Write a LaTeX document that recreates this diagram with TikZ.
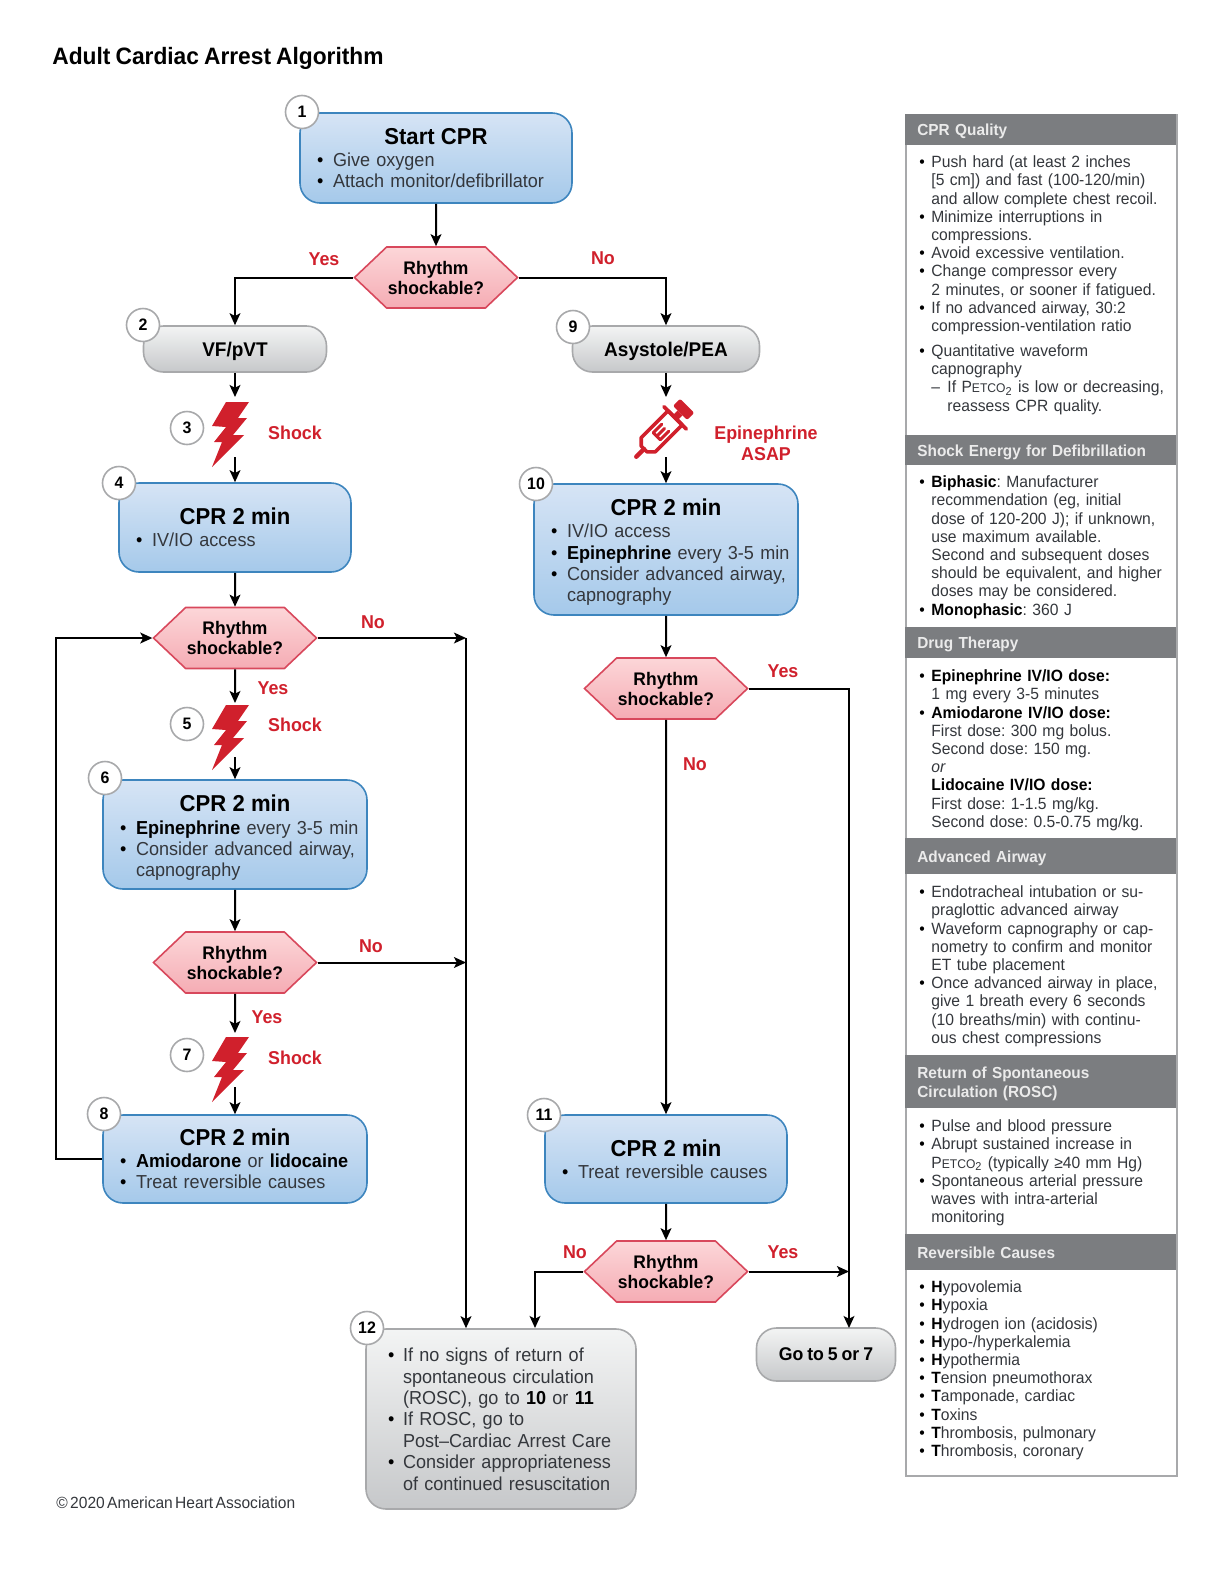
\documentclass[tikz,border=0pt]{standalone}
\usepackage{fontspec}
\setmainfont[WordSpace=0.55, FakeStretch=0.96, BoldFeatures={WordSpace=0.8}]{Liberation Sans}
\usetikzlibrary{shapes.symbols,arrows.meta}
\definecolor{cprblue}{RGB}{61, 133, 190}
\definecolor{cprbluetop}{RGB}{214, 228, 245}
\definecolor{cprbluelow}{RGB}{165, 201, 234}
\definecolor{cprgray}{RGB}{168, 169, 171}
\definecolor{cprgraytop}{RGB}{243, 244, 244}
\definecolor{cprgraylow}{RGB}{198, 200, 202}
\definecolor{cprpink}{RGB}{216, 72, 92}
\definecolor{cprpinktop}{RGB}{252, 214, 216}
\definecolor{cprpinklow}{RGB}{245, 172, 180}
\definecolor{cprred}{RGB}{208, 32, 44}
\definecolor{hdrgray}{RGB}{123, 125, 128}
\definecolor{bodygray}{RGB}{52, 55, 60}
\newcommand{\bodyfont}{\fontsize{9.4}{10.5}\selectfont}
\newcommand{\titlefont}{\bfseries\fontsize{11.5}{12}\selectfont\color{black}}
\newcommand{\sidefont}{\fontsize{8.15}{9.1}\selectfont}
\def\itmw{8pt}
\newcommand{\bd}[1]{\textbf{\color{black}#1}}
\newcommand{\ttl}[2][0pt]{\hbox to \hsize{\hss\titlefont\rule{0pt}{#1}#2\hss}\vskip.6pt}
\newcommand{\itm}[1]{\hbox{\rule{0pt}{.75em}\hbox to \itmw{\color{black}\textbullet\hss}#1}\par}
\newcommand{\cnt}[1]{\hbox{\rule{0pt}{.75em}\hbox to \itmw{\hss}#1}\par}
\newcommand{\petco}{P{\fontsize{6.3}{7}\selectfont ETCO}\textsubscript{2}}
\tikzset{
  bluebox/.style={rectangle, rounded corners=10pt, draw=cprblue, line width=.8pt, top color=cprbluetop, middle color=cprbluetop!94!cprbluelow, bottom color=cprbluelow, inner xsep=8.5pt, inner ysep=0pt, font=\bodyfont, text=bodygray},
  graybox/.style={rectangle, rounded corners=10pt, draw=cprgray, line width=.8pt, top color=cprgraytop, middle color=cprgraytop!88!cprgraylow, bottom color=cprgraylow, inner ysep=0pt, font=\bodyfont, text=bodygray},
  grayhead/.style={graybox, font=\bfseries\fontsize{9.9}{10.4}\selectfont, text=black, text depth=0pt},
  rhythm/.style={signal, signal to=west and east, signal pointer angle=87, draw=cprpink, line width=.8pt, top color=cprpinktop, middle color=cprpinktop!92!cprpinklow, bottom color=cprpinklow, minimum width=81.5pt, minimum height=30.5pt, inner sep=0pt, align=center, font=\bfseries\fontsize{9.1}{10}\selectfont, text=black},
  numcircle/.style={circle, draw=cprgray, line width=.8pt, fill=white, minimum size=16.5pt, inner sep=0pt, font=\bfseries\fontsize{8.3}{9}\selectfont, text=black},
  redlabel/.style={font=\bfseries\fontsize{9.3}{10.4}\selectfont, text=cprred, inner sep=0pt, align=center},
  sidehead/.style={rectangle, anchor=north west, fill=hdrgray, text=white!92!black, inner xsep=6pt, inner ysep=0pt, minimum width=135.5pt, text width=123.5pt, text height=5.6pt, text depth=0pt, font=\bfseries\fontsize{8}{9.5}\selectfont},
  sidetext/.style={anchor=north west, inner sep=0pt, text width=125pt, font=\sidefont, text=bodygray},
  flowline/.style={line width=1pt, black},
  boltshape/.pic={\fill[cprred] (-4,0) -- (19,0) -- (8,16) -- (17,16) -- (3,33) -- (14,33) -- (-18,65) -- (-8,40) -- (-16,40) -- (-4,25) -- (-18,24) -- cycle;}
}
\begin{document}
\frenchspacing
\begin{tikzpicture}[x=.5pt, y=-.5pt, >={Stealth[length=6pt, width=5.4pt, inset=1.4pt]}]
\useasboundingbox (0,0) rectangle (1231,1580);
\node[anchor=west, inner sep=0pt, font=\bfseries\fontsize{11.85}{13}\selectfont] (title) at (52,58) {Adult Cardiac Arrest Algorithm};
\node[anchor=west, inner sep=0pt, font=\fontsize{8.1}{9}\selectfont, text=bodygray] (copyr) at (56,1503) {© 2020 American Heart Association};

% Boxes
\node[bluebox, minimum width=136pt, minimum height=45pt, text width=119pt] (box1) at (436,158) {\ttl{Start CPR}\itm{Give oxygen}\itm{Attach monitor/defibrillator}};
\node[grayhead, minimum width=91.5pt, minimum height=23pt] (box2) at (235,349) {VF/pVT};
\node[bluebox, minimum width=116pt, minimum height=44.5pt, text width=99pt] (box4) at (235,527.5) {\ttl{CPR 2 min}\itm{IV/IO access}};
\node[bluebox, minimum width=132pt, minimum height=54.5pt, text width=115pt] (box6) at (235,834.5) {\ttl[11.5pt]{CPR 2 min}\itm{\bd{Epinephrine} every 3-5 min}\itm{Consider advanced airway,}\cnt{capnography}};
\node[bluebox, minimum width=132pt, minimum height=44pt, text width=115pt] (box8) at (235,1159) {\ttl{CPR 2 min}\itm{\bd{Amiodarone} or \bd{lidocaine}}\itm{Treat reversible causes}};
\node[grayhead, minimum width=93.5pt, minimum height=23pt] (box9) at (666,349) {Asystole/PEA};
\node[bluebox, minimum width=132pt, minimum height=65.5pt, text width=115pt, font=\fontsize{9.4}{10.7}\selectfont] (box10) at (666,549.5) {\ttl[11pt]{CPR 2 min}\itm{IV/IO access}\itm{\bd{Epinephrine} every 3-5 min}\itm{Consider advanced airway,}\cnt{capnography}};
\node[bluebox, minimum width=121pt, minimum height=44pt, text width=104pt] (box11) at (666,1159) {\ttl{CPR 2 min}\itm{Treat reversible causes}};
\node[graybox, minimum width=135pt, minimum height=90pt, inner xsep=11pt, text width=113pt, font=\fontsize{9.4}{10.7}\selectfont] (box12) at (501,1419) {\def\itmw{7.5pt}\itm{If no signs of return of}\cnt{spontaneous circulation}\cnt{(ROSC), go to \bd{10} or \bd{11}}\itm{If ROSC, go to}\cnt{Post–Cardiac Arrest Care}\itm{Consider appropriateness}\cnt{of continued resuscitation}};
\node[grayhead, minimum width=69.5pt, minimum height=26.5pt, font=\bfseries\fontsize{9.2}{10.4}\selectfont] (box13) at (826,1354.5) {Go to 5 or 7};

% Decisions
\node[rhythm] (dec1) at (436,277.5) {Rhythm\\shockable?};
\node[rhythm] (dec2) at (235,638) {Rhythm\\shockable?};
\node[rhythm] (dec3) at (235,962.5) {Rhythm\\shockable?};
\node[rhythm] (dec4) at (666,688.5) {Rhythm\\shockable?};
\node[rhythm] (dec5) at (666,1271.5) {Rhythm\\shockable?};

% Number circles
\node[numcircle] (num1) at (302,112) {1};
\node[numcircle] (num2) at (143,325) {2};
\node[numcircle] (num3) at (187,428) {3};
\node[numcircle] (num4) at (119,483) {4};
\node[numcircle] (num5) at (187,724) {5};
\node[numcircle] (num6) at (105,778) {6};
\node[numcircle] (num7) at (187,1055) {7};
\node[numcircle] (num8) at (104,1114) {8};
\node[numcircle] (num9) at (573,327) {9};
\node[numcircle] (num10) at (536,484) {10};
\node[numcircle] (num11) at (544,1115) {11};
\node[numcircle] (num12) at (367,1328) {12};

% Shock bolts
\pic at (230,402) {boltshape};
\pic at (230,705) {boltshape};
\pic at (230,1037) {boltshape};

% Syringe
\begin{scope}[shift={(661,432)}, rotate=45, cprred, line cap=round, line join=round]
\draw[line width=2.2pt] (-35,0) -- (-24,0);
\draw[line width=1.8pt] (-24,-4) -- (-18,-10) -- (20,-10) -- (20,10) -- (-18,10) -- (-24,4) -- cycle;
\draw[line width=1.8pt] (20,-16) -- (20,16);
\draw[line width=3.5pt, line cap=butt] (20,0) -- (27,0);
\fill[rounded corners=1pt] (27,-10) -- (27,10) -- (37,10) -- (37,-10) -- cycle;
\draw[line width=1.5pt] (6,-5) -- (-6,-5) -- (-6,5) -- (6,5) (-6,0) -- (5,0);
\end{scope}

% Red labels
\node[redlabel] (yes1) at (324,259) {Yes};
\node[redlabel] (no1) at (603,258) {No};
\node[redlabel] (shock3) at (295,433) {Shock};
\node[redlabel] (epi) at (766,443.5) {Epinephrine\\ASAP};
\node[redlabel] (no2) at (373,622) {No};
\node[redlabel] (yes2) at (273,688) {Yes};
\node[redlabel] (shock5) at (295,725) {Shock};
\node[redlabel] (no3) at (371,946) {No};
\node[redlabel] (yes3) at (267,1017) {Yes};
\node[redlabel] (shock7) at (295,1058) {Shock};
\node[redlabel] (yes4) at (783,671) {Yes};
\node[redlabel] (no4) at (695,764) {No};
\node[redlabel] (no5) at (575,1252) {No};
\node[redlabel] (yes5) at (783,1252) {Yes};

% Free ends
\coordinate (in3) at (235,397);
\coordinate (out3) at (235,457);
\coordinate (in5) at (235,703);
\coordinate (out5) at (235,757);
\coordinate (in7) at (235,1033);
\coordinate (out7) at (235,1087);
\coordinate (insyr) at (666,397);
\coordinate (outsyr) at (666,457);
\coordinate (loop) at (56,638);
\coordinate (jn1) at (466,638);
\coordinate (left12) at (535,1328);
\coordinate (goin) at (849,1328);

% Edges
\draw[->, flowline] (box1) -- (dec1);
\draw[->, flowline] (dec1.west) -| (box2);
\draw[->, flowline] (dec1.east) -| (box9);
\draw[->, flowline] (box2) -- (in3);
\draw[->, flowline] (out3) -- (box4);
\draw[->, flowline] (box4) -- (dec2);
\draw[->, flowline] (dec2) -- (in5);
\draw[->, flowline] (out5) -- (box6);
\draw[->, flowline] (box6) -- (dec3);
\draw[->, flowline] (dec3) -- (in7);
\draw[->, flowline] (out7) -- (box8);
\draw[->, flowline] (box8.west) -| (loop) -- (dec2.west);
\draw[->, flowline] (dec2.east) -- (jn1);
\draw[->, flowline] (dec3.east) -- (dec3.east -| jn1);
\draw[->, flowline] (jn1) -- (jn1 |- box12.north);
\draw[->, flowline] (box9) -- (insyr);
\draw[->, flowline] (outsyr) -- (box10);
\draw[->, flowline] (box10) -- (dec4);
\draw[->, flowline] (dec4) -- (box11);
\draw[->, flowline] (box11) -- (dec5);
\draw[->, flowline] (dec4.east) -| (goin);
\draw[->, flowline] (dec5.east) -- (dec5.east -| goin);
\draw[->, flowline] (dec5.west) -| (left12);

% Side panel
\node[rectangle, anchor=north west, draw=cprgray, line width=.8pt, fill=white, minimum width=135.5pt, minimum height=680.5pt, inner sep=0pt] (panel) at (905,114) {};
\node[sidehead, minimum height=15.5pt] (hdr1) at (905,114) {CPR Quality};
\node[sidehead, minimum height=15pt] (hdr2) at (905,435) {Shock Energy for Defibrillation};
\node[sidehead, minimum height=15.5pt] (hdr3) at (905,627) {Drug Therapy};
\node[sidehead, minimum height=18pt] (hdr4) at (905,838) {Advanced Airway};
\node[sidehead, minimum height=26.5pt, text depth=9.5pt] (hdr5) at (905,1055) {Return of Spontaneous\\Circulation (ROSC)};
\node[sidehead, minimum height=18pt] (hdr6) at (905,1234) {Reversible Causes};

\node[sidetext] (txt1) at (919,155) {\def\itmw{6pt}\itm{Push hard (at least 2 inches}\cnt{[5 cm]) and fast (100-120/min)}\cnt{and allow complete chest recoil.}\itm{Minimize interruptions in}\cnt{compressions.}\itm{Avoid excessive ventilation.}\itm{Change compressor every}\cnt{2 minutes, or sooner if fatigued.}\itm{If no advanced airway, 30:2}\cnt{compression-ventilation ratio}\vskip3.4pt\itm{Quantitative waveform}\cnt{capnography}\cnt{\hbox to 8pt{–\hss}If \petco{} is low or decreasing,}\cnt{\hbox to 8pt{\hss}reassess CPR quality.}};
\node[sidetext] (txt2) at (919,475) {\def\itmw{6pt}\itm{\bd{Biphasic}: Manufacturer}\cnt{recommendation (eg, initial}\cnt{dose of 120-200 J); if unknown,}\cnt{use maximum available.}\cnt{Second and subsequent doses}\cnt{should be equivalent, and higher}\cnt{doses may be considered.}\itm{\bd{Monophasic}: 360 J}};
\node[sidetext] (txt3) at (919,669) {\def\itmw{6pt}\itm{\bd{Epinephrine IV/IO dose:}}\cnt{1 mg every 3-5 minutes}\itm{\bd{Amiodarone IV/IO dose:}}\cnt{First dose: 300 mg bolus.}\cnt{Second dose: 150 mg.}\cnt{\textit{or}}\cnt{\bd{Lidocaine IV/IO dose:}}\cnt{First dose: 1-1.5 mg/kg.}\cnt{Second dose: 0.5-0.75 mg/kg.}};
\node[sidetext] (txt4) at (919,885) {\def\itmw{6pt}\itm{Endotracheal intubation or su-}\cnt{praglottic advanced airway}\itm{Waveform capnography or cap-}\cnt{nometry to confirm and monitor}\cnt{ET tube placement}\itm{Once advanced airway in place,}\cnt{give 1 breath every 6 seconds}\cnt{(10 breaths/min) with continu-}\cnt{ous chest compressions}};
\node[sidetext] (txt5) at (919,1119) {\def\itmw{6pt}\itm{Pulse and blood pressure}\itm{Abrupt sustained increase in}\cnt{\petco{} (typically ≥40 mm Hg)}\itm{Spontaneous arterial pressure}\cnt{waves with intra-arterial}\cnt{monitoring}};
\node[sidetext] (txt6) at (919,1280) {\def\itmw{6pt}\itm{\bd{H}ypovolemia}\itm{\bd{H}ypoxia}\itm{\bd{H}ydrogen ion (acidosis)}\itm{\bd{H}ypo-/hyperkalemia}\itm{\bd{H}ypothermia}\itm{\bd{T}ension pneumothorax}\itm{\bd{T}amponade, cardiac}\itm{\bd{T}oxins}\itm{\bd{T}hrombosis, pulmonary}\itm{\bd{T}hrombosis, coronary}};
\end{tikzpicture}
\end{document}
